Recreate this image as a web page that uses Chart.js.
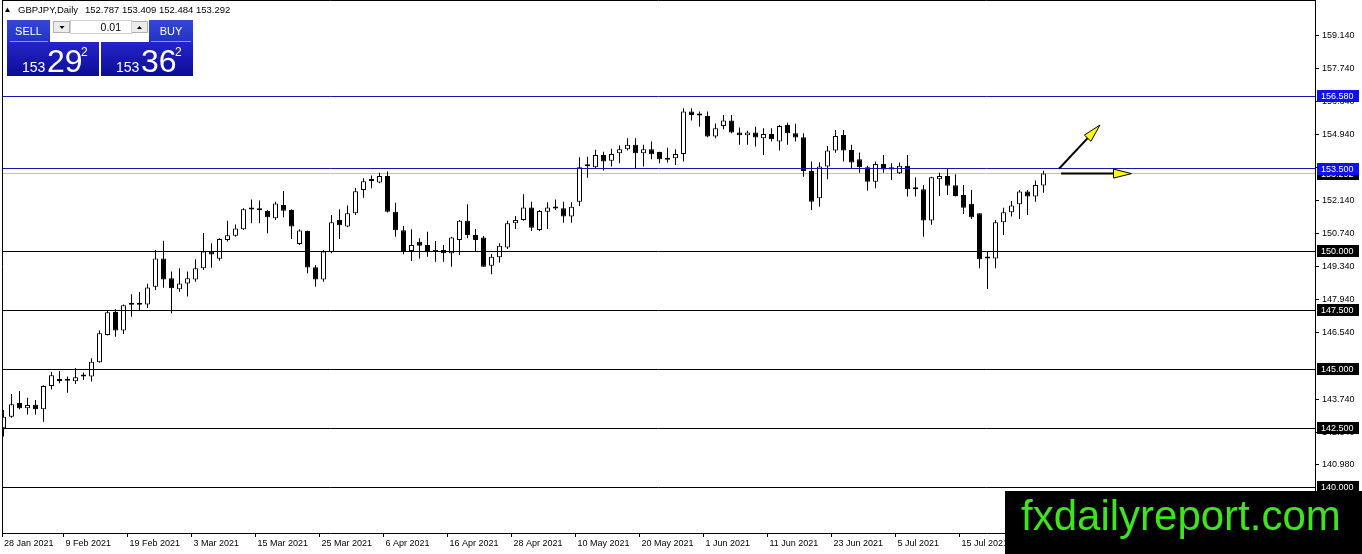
<!DOCTYPE html>
<html><head><meta charset="utf-8">
<script src="https://cdn.jsdelivr.net/npm/chart.js@4.4.1/dist/chart.umd.min.js"></script>
<style>
html,body{margin:0;padding:0;background:#fff;overflow:hidden}
canvas{display:block}
</style></head><body>
<canvas id="c" width="1362" height="554"></canvas>
<script>
// ---------- data ----------
const symbolTitle = "GBPJPY,Daily";
const lastOHLC = "152.787 153.409 152.484 153.292";
const opens = [142.50,142.99,143.57,143.35,143.50,143.31,144.29,144.50,144.53,144.49,144.70,144.70,145.30,146.45,147.43,146.64,147.74,147.74,147.75,148.50,
149.70,148.86,148.39,148.64,148.81,149.28,149.99,149.68,150.48,150.66,150.93,151.77,151.74,151.71,151.40,151.96,151.75,150.31,150.86,149.32,
148.81,149.96,151.33,151.05,151.61,152.60,152.98,152.92,153.19,151.68,150.89,150.01,150.40,150.27,149.97,150.06,149.92,150.48,151.29,150.69,
150.58,149.39,149.75,150.16,151.19,151.33,151.86,150.90,151.68,151.81,151.82,151.47,152.10,153.60,153.56,154.08,153.84,154.15,154.32,154.51,
154.15,154.32,154.21,153.88,153.94,154.12,155.92,155.78,155.73,154.86,155.31,155.54,155.03,154.92,155.03,154.79,154.97,154.65,155.35,155.00,
154.83,153.40,152.25,153.59,154.27,154.93,154.29,153.90,153.56,152.95,153.70,153.47,153.31,153.62,152.71,152.63,151.30,153.05,153.19,152.80,
152.39,152.01,151.61,149.69,149.70,151.23,151.65,151.99,152.53,152.32,152.787];
const highs = [143.28,143.95,144.08,143.79,143.70,144.32,144.89,144.93,144.69,145.06,144.86,145.47,146.64,147.49,147.54,147.75,148.18,148.28,148.62,150.06,
150.45,149.14,149.28,149.14,149.66,150.78,150.34,150.55,151.29,151.14,151.82,152.20,152.15,151.75,152.10,152.56,151.78,150.93,150.88,149.42,
150.06,151.54,151.78,151.94,152.68,153.09,153.21,153.33,153.38,152.06,151.07,150.93,150.55,150.83,150.44,150.27,150.62,151.33,151.99,150.95,
150.65,149.89,150.34,151.29,151.50,152.42,152.10,151.75,152.08,152.20,152.10,152.08,153.98,154.01,154.30,154.22,154.35,154.48,154.79,154.79,
154.51,154.65,154.22,154.39,154.32,156.06,156.06,155.92,155.92,155.42,155.78,155.78,155.25,155.11,155.28,155.21,155.21,155.35,155.45,155.40,
155.00,153.80,153.77,154.46,155.14,155.14,154.51,154.19,153.62,153.80,154.08,153.73,153.76,154.08,153.14,152.81,153.16,153.33,153.52,153.26,
152.81,152.60,151.61,149.99,151.33,151.85,152.13,152.60,152.60,153.00,153.409];
const lows = [142.15,142.95,143.31,143.09,143.09,142.78,144.14,144.41,144.01,144.38,144.55,144.48,145.28,146.43,146.38,146.50,147.23,147.49,147.60,148.36,
148.46,147.37,148.29,148.08,148.71,149.21,149.30,149.60,150.41,150.62,150.90,151.19,151.19,150.76,151.33,151.44,150.52,150.27,149.07,148.50,
148.71,149.92,150.52,151.02,151.54,152.27,152.67,152.88,151.64,150.62,149.87,149.59,149.70,149.77,149.56,149.56,149.35,149.84,150.55,150.01,
149.33,149.03,149.53,150.10,150.95,151.29,150.86,150.86,150.95,151.75,151.21,151.21,151.92,153.12,153.52,153.42,153.59,153.73,154.27,153.52,
153.59,153.90,153.73,153.76,153.66,153.80,155.54,155.28,154.83,154.79,155.17,155.00,154.51,154.51,154.44,154.08,154.65,154.27,154.51,154.65,
153.16,151.75,151.89,153.05,154.18,153.80,153.52,153.33,152.57,152.67,153.33,153.02,153.28,152.32,152.32,150.62,151.12,152.34,152.39,152.32,
151.58,151.37,149.28,148.40,149.28,150.69,151.47,151.37,151.54,152.10,152.484];
const closes = [142.99,143.52,143.35,143.49,143.31,144.29,144.75,144.53,144.51,144.66,144.72,145.32,146.53,147.42,146.64,147.71,147.77,147.76,148.47,149.70,
148.81,148.43,148.64,148.86,149.28,149.99,149.86,150.52,150.68,150.97,151.78,151.79,151.77,151.44,152.03,151.72,151.05,150.88,149.31,148.81,
149.99,151.23,151.10,151.61,152.54,152.97,153.01,153.19,151.68,150.89,150.01,150.27,150.24,149.96,150.06,149.92,150.59,151.29,150.69,150.48,
149.35,149.77,150.24,151.19,151.33,151.86,151.00,151.71,151.86,151.84,151.47,151.89,153.56,153.63,154.08,153.80,154.12,154.32,154.51,154.15,
154.32,154.11,153.90,153.91,154.12,155.92,155.78,155.75,154.86,155.21,155.54,155.03,154.92,155.03,154.82,154.97,154.75,155.31,155.00,154.82,
153.40,152.10,153.59,154.27,154.89,154.27,153.76,153.56,152.95,153.70,153.47,153.56,153.62,152.63,152.63,151.30,153.14,153.19,152.78,152.34,
151.85,151.44,149.66,149.72,151.23,151.65,151.94,152.53,152.32,152.81,153.292];
const dateLabels = ["28 Jan 2021","9 Feb 2021","19 Feb 2021","3 Mar 2021","15 Mar 2021","25 Mar 2021","6 Apr 2021","16 Apr 2021",
"28 Apr 2021","10 May 2021","20 May 2021","1 Jun 2021","11 Jun 2021","23 Jun 2021","5 Jul 2021","15 Jul 2021"];
const labelEvery = 8;
const priceTicks = [159.14,157.74,156.34,154.94,153.54,152.14,150.74,149.34,147.94,146.54,143.74,142.34,140.98];
const blueLevels = [156.58,153.5];
const blackLevels = [150,147.5,145,142.5,140];
const currentPrice = 153.292;
const sellQuote = ["153","29","2"];
const buyQuote = ["153","36","2"];
const lotSize = "0.01";
// arrows: [startIndex, startPrice, endIndex, endPrice]
const arrowUp = [132.94,153.5,138.06,155.35];
const arrowFlat = [133.2,153.292,142.0,153.292];
const watermark = "fxdailyreport.com";

// ---------- chart ----------
const FONT = "'Liberation Sans', Arial, sans-serif";
const xMin = 0.8125, xMax = 164.9375;
const yMin = 138.064, yMax = 160.648;
const idx = opens.map((_, i) => i + 1);
const bodies = idx.map((n, i) => ({x: n, y: [opens[i], closes[i]]}));
const wicks = idx.map((n, i) => ({x: n, y: [lows[i], highs[i]]}));
const bodyFill = idx.map((n, i) => closes[i] >= opens[i] ? '#ffffff' : '#000000');

function drawArrow(ctx, x0, y0, x1, y1) {
  const a = Math.atan2(y1 - y0, x1 - x0);
  const L = 18, W = 4.5;
  const bx = x1 - L * Math.cos(a), by = y1 - L * Math.sin(a);
  ctx.save();
  ctx.strokeStyle = '#000'; ctx.lineWidth = 2;
  ctx.beginPath(); ctx.moveTo(x0, y0); ctx.lineTo(bx, by); ctx.stroke();
  ctx.beginPath();
  ctx.moveTo(x1, y1);
  ctx.lineTo(bx + W * Math.sin(a), by - W * Math.cos(a));
  ctx.lineTo(bx - W * Math.sin(a), by + W * Math.cos(a));
  ctx.closePath();
  ctx.fillStyle = '#ffff00'; ctx.fill();
  ctx.lineWidth = 1; ctx.stroke();
  ctx.restore();
}
const snap = v => Math.round(v - 0.5) + 0.5;

const overlay = {
  id: 'overlay',
  beforeDraw(chart) {
    const c = chart.ctx;
    c.save(); c.fillStyle = '#fff'; c.fillRect(0, 0, chart.width, chart.height); c.restore();
  },
  beforeDatasetsDraw(chart) {
    const c = chart.ctx, a = chart.chartArea, y = chart.scales.y;
    c.save();
    c.strokeStyle = '#c0c0c0'; c.lineWidth = 1;
    const py = snap(y.getPixelForValue(currentPrice));
    c.beginPath(); c.moveTo(a.left, py); c.lineTo(a.right, py); c.stroke();
    c.restore();
  },
  afterDatasetsDraw(chart) {
    const c = chart.ctx, a = chart.chartArea, y = chart.scales.y, x = chart.scales.x;
    c.save();
    c.lineWidth = 1;
    blackLevels.forEach(v => {
      const py = snap(y.getPixelForValue(v));
      c.strokeStyle = '#000'; c.beginPath(); c.moveTo(a.left, py); c.lineTo(a.right, py); c.stroke();
    });
    blueLevels.forEach(v => {
      const py = snap(y.getPixelForValue(v));
      c.strokeStyle = '#1818a8'; c.beginPath(); c.moveTo(a.left, py); c.lineTo(a.right, py); c.stroke();
    });
    // left/top frame
    c.strokeStyle = '#000';
    c.beginPath(); c.moveTo(a.left + 0.5, a.top); c.lineTo(a.left + 0.5, a.bottom); c.stroke();
    c.beginPath(); c.moveTo(a.left, a.top + 0.5); c.lineTo(a.right, a.top + 0.5); c.stroke();
    [arrowUp, arrowFlat].forEach(r => {
      drawArrow(c, x.getPixelForValue(r[0]), y.getPixelForValue(r[1]), x.getPixelForValue(r[2]), y.getPixelForValue(r[3]));
    });
    c.restore();
  },
  afterDraw(chart) {
    const c = chart.ctx, a = chart.chartArea, y = chart.scales.y;
    c.save();
    // price boxes on the right axis
    const box = (v, bg) => {
      const py = Math.round(y.getPixelForValue(v));
      c.fillStyle = bg; c.fillRect(a.right + 2, py - 6, 42, 12);
      c.fillStyle = '#fff'; c.font = '9px ' + FONT; c.textBaseline = 'middle'; c.textAlign = 'left';
      c.fillText(v.toFixed(3), a.right + 6, py + 0.5);
    };
    box(currentPrice, '#000');
    blackLevels.forEach(v => box(v, '#000'));
    blueLevels.forEach(v => box(v, '#1010f0'));

    // header
    c.fillStyle = '#000';
    c.beginPath(); c.moveTo(5, 12); c.lineTo(10, 12); c.lineTo(7.5, 7.5); c.closePath(); c.fill();
    c.font = '9.5px ' + FONT; c.textBaseline = 'alphabetic'; c.textAlign = 'left';
    c.fillText(symbolTitle, 18, 13);
    c.fillText(lastOHLC, 85, 13);

    // trade panel
    const grad = (y0, y1, top, bot) => { const g = c.createLinearGradient(0, y0, 0, y1); g.addColorStop(0, top); g.addColorStop(1, bot); return g; };
    c.fillStyle = grad(20, 42, '#3446d8', '#2233c4');
    c.fillRect(7, 20, 43, 22); c.fillRect(149, 20, 44, 22);
    c.fillStyle = grad(43, 76, '#2424c8', '#0c0c96');
    c.fillRect(7, 42, 92, 34); c.fillRect(101, 42, 92, 34);
    c.strokeStyle = '#8c9ae8'; c.lineWidth = 1;
    c.beginPath(); c.moveTo(10, 41.5); c.lineTo(48, 41.5); c.moveTo(151, 41.5); c.lineTo(191, 41.5); c.stroke();
    // lot control
    c.fillStyle = '#fff'; c.fillRect(52, 20, 96, 14);
    c.strokeStyle = '#b0b0b0';
    c.fillStyle = '#ececec'; c.fillRect(53, 21, 17, 12); c.strokeRect(53.5, 21.5, 16, 11);
    c.fillRect(131, 21, 17, 12); c.strokeRect(131.5, 21.5, 16, 11);
    c.strokeStyle = '#d0d0d0'; c.strokeRect(70.5, 20.5, 61, 13);
    c.fillStyle = '#000';
    c.beginPath(); c.moveTo(59.5, 26); c.lineTo(64.5, 26); c.lineTo(62, 29); c.closePath(); c.fill();
    c.beginPath(); c.moveTo(137, 29); c.lineTo(142, 29); c.lineTo(139.5, 26); c.closePath(); c.fill();
    c.font = '10.5px ' + FONT; c.textAlign = 'right'; c.fillText(lotSize, 121, 31);
    c.fillStyle = '#fff'; c.textAlign = 'center'; c.font = '11px ' + FONT;
    c.fillText('SELL', 28.5, 35); c.fillText('BUY', 171, 35);
    const quote = (q, x0) => {
      c.textAlign = 'left';
      c.font = '14px ' + FONT; c.fillText(q[0], x0, 72);
      c.font = '32px ' + FONT; c.fillText(q[1], x0 + 25, 72);
      c.font = '12px ' + FONT; c.fillText(q[2], x0 + 59, 56);
    };
    quote(sellQuote, 22);
    quote(buyQuote, 116);

    // watermark
    c.fillStyle = '#000'; c.fillRect(1005, 491, 357, 63);
    c.fillStyle = '#3fe31e'; c.font = '42px ' + FONT; c.textAlign = 'left'; c.textBaseline = 'alphabetic';
    c.fillText(watermark, 1021, 530);
    c.restore();
  }
};

new Chart(document.getElementById('c'), {
  type: 'bar',
  data: {
    datasets: [
      {data: bodies, backgroundColor: bodyFill, borderColor: '#000', borderWidth: 1, borderSkipped: false,
       barThickness: 5, minBarLength: 2, grouped: false, inflateAmount: 0, order: 0},
      {data: wicks, backgroundColor: '#000', borderWidth: 0, barThickness: 1, grouped: false, inflateAmount: 0, order: 1}
    ]
  },
  options: {
    responsive: false, animation: false, devicePixelRatio: 1,
    layout: {padding: {left: 2, top: 0, right: 0, bottom: 0}},
    plugins: {legend: {display: false}, tooltip: {enabled: false}},
    scales: {
      x: {
        type: 'linear', min: xMin, max: xMax, offset: false, bounds: 'data',
        grid: {offset: false, drawOnChartArea: false, drawTicks: true, tickLength: 4, color: '#000'},
        border: {display: true, color: '#000'},
        afterBuildTicks: s => { s.ticks = dateLabels.map((_, k) => ({value: Math.max(xMin, 1 + k * labelEvery - 0.5)})); },
        afterFit: s => { s.height = 21; s.paddingLeft = 0; s.paddingRight = 0; },
        ticks: {autoSkip: false, maxRotation: 0, minRotation: 0, align: 'start', labelOffset: 2, padding: 1,
                color: '#000', font: {family: FONT, size: 9},
                callback: (v, i) => dateLabels[i]}
      },
      y: {
        type: 'linear', position: 'right', min: yMin, max: yMax, bounds: 'data', beginAtZero: false,
        grid: {drawOnChartArea: false, drawTicks: true, tickLength: 4, color: '#000'},
        border: {display: true, color: '#000'},
        afterBuildTicks: s => { s.ticks = priceTicks.map(v => ({value: v})); },
        afterFit: s => { s.width = 47; s.paddingTop = 0; s.paddingBottom = 0; },
        ticks: {padding: 3, color: '#000', font: {family: FONT, size: 9}, callback: v => Number(v).toFixed(3)}
      }
    }
  },
  plugins: [overlay]
});
</script>
</body></html>
